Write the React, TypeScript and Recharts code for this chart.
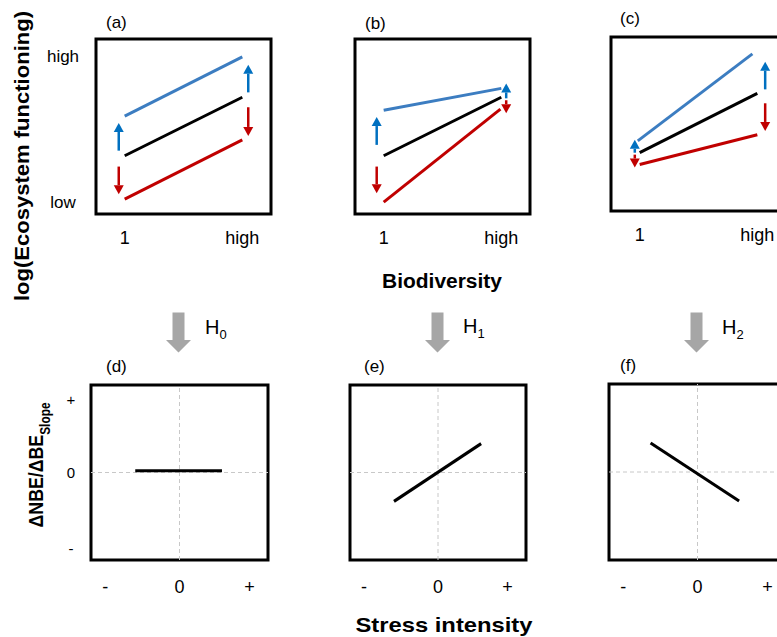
import React from 'react';
import { LineChart, Line, XAxis, YAxis, ReferenceLine, ReferenceArea } from 'recharts';

const FONT = '"Liberation Sans", Arial, sans-serif';
const BLUE = '#3C7DC1';
const BLUE_ARROW = '#0070C0';
const RED = '#C00000';
const GREY = '#A6A6A6';

// top row: biodiversity vs log(ecosystem functioning), both on a 0..10 scale
const bioTicks = [1.64, 8.36];
const bioLabels = ['1', 'high'];
const efTicks = [0.68, 9.0];
const efLabels = ['low', 'high'];

const aBlue = [{ x: 1.64, y: 5.59 }, { x: 8.36, y: 8.98 }];
const aBlack = [{ x: 1.64, y: 3.33 }, { x: 8.36, y: 6.67 }];
const aRed = [{ x: 1.64, y: 0.85 }, { x: 8.36, y: 4.24 }];
const aArrows = [
  { x: 1.3, from: 3.62, to: 5.2, color: BLUE_ARROW },
  { x: 1.3, from: 2.71, to: 1.13, color: RED },
  { x: 8.7, from: 6.95, to: 8.53, color: BLUE_ARROW },
  { x: 8.7, from: 6.1, to: 4.46, color: RED }
];

const bBlue = [{ x: 1.64, y: 5.93 }, { x: 8.36, y: 7.18 }];
const bBlack = [{ x: 1.64, y: 3.33 }, { x: 8.36, y: 6.67 }];
const bRed = [{ x: 1.64, y: 0.68 }, { x: 8.31, y: 5.99 }];
const bArrows = [
  { x: 1.24, from: 3.95, to: 5.54, color: BLUE_ARROW },
  { x: 1.24, from: 2.71, to: 1.19, color: RED },
  { x: 8.64, from: 6.61, to: 7.46, color: BLUE_ARROW },
  { x: 8.64, from: 6.5, to: 5.76, color: RED }
];

const cBlue = [{ x: 1.53, y: 4.03 }, { x: 8.08, y: 9.03 }];
const cBlack = [{ x: 1.64, y: 3.35 }, { x: 8.36, y: 6.76 }];
const cRed = [{ x: 1.64, y: 2.67 }, { x: 8.36, y: 4.38 }];
const cArrows = [
  { x: 1.36, from: 3.35, to: 4.09, color: BLUE_ARROW },
  { x: 1.36, from: 3.24, to: 2.5, color: RED },
  { x: 8.81, from: 6.99, to: 8.58, color: BLUE_ARROW },
  { x: 8.81, from: 6.19, to: 4.6, color: RED }
];

// bottom row: stress intensity vs delta NBE / delta BE slope, -1..1
const stressTicks = [-0.84, 0, 0.79];
const stressLabels = ['-', '0', '+'];
const slopeTicks = [-0.87, 0, 0.84];
const slopeLabels = ['-', '0', '+'];

const dLine = [{ x: -0.5, y: 0.02 }, { x: 0.48, y: 0.02 }];
const eLine = [{ x: -0.5, y: -0.33 }, { x: 0.49, y: 0.33 }];
const fLine = [{ x: -0.53, y: 0.33 }, { x: 0.47, y: -0.33 }];

const ArrowShape = (p: any) => {
  const { x1, y1, x2, y2, color } = p;
  if (x1 == null || y1 == null) return <g />;
  const dx = x2 - x1;
  const dy = y2 - y1;
  const len = Math.hypot(dx, dy) || 1;
  const ux = dx / len;
  const uy = dy / len;
  const hl = Math.min(9, len * 0.75);
  const hw = 5;
  const bx = x2 - ux * hl;
  const by = y2 - uy * hl;
  return (
    <g>
      <line x1={x1} y1={y1} x2={bx} y2={by} stroke={color} strokeWidth={2.5} />
      <polygon
        points={`${x2},${y2} ${bx - uy * hw},${by + ux * hw} ${bx + uy * hw},${by - ux * hw}`}
        fill={color}
      />
    </g>
  );
};

type Series = { data: { x: number; y: number }[]; color: string };
type Arrow = { x: number; from: number; to: number; color: string };

interface PanelProps {
  left: number;
  top: number;
  w: number;
  h: number;
  domain: [number, number];
  xTicks: number[];
  xLabels: string[];
  xGap: number;
  yTicks?: number[];
  yLabels?: string[];
  yGap?: number;
  yFont?: number;
  lines: Series[];
  arrows?: Arrow[];
  cross?: boolean;
}

const PAD_L = 70;
const PAD_T = 6;
const PAD_R = 6;
const PAD_B = 44;

function Panel({
  left, top, w, h, domain, xTicks, xLabels, xGap,
  yTicks, yLabels, yGap = 30, yFont = 16, lines, arrows = [], cross = false
}: PanelProps) {
  const xLab = (v: number) => xLabels[xTicks.indexOf(v)] ?? '';
  const yLab = (v: number) => (yLabels && yTicks ? yLabels[yTicks.indexOf(v)] ?? '' : '');
  return (
    <div style={{ position: 'absolute', left: left - PAD_L, top: top - PAD_T }}>
      <LineChart
        width={w + PAD_L + PAD_R}
        height={h + PAD_T + PAD_B}
        margin={{ top: PAD_T, right: PAD_R, left: 0, bottom: 0 }}
      >
        <XAxis
          type="number"
          dataKey="x"
          domain={domain}
          ticks={xTicks}
          interval={0}
          height={PAD_B}
          axisLine={false}
          tickLine={false}
          tickSize={0}
          tickMargin={0}
          allowDataOverflow
          tick={(p: any) => (
            <text
              x={p.x}
              y={p.y + xGap}
              textAnchor="middle"
              dominantBaseline="central"
              fontFamily={FONT}
              fontSize={18}
              fill="#000"
            >
              {xLab(p.payload.value)}
            </text>
          )}
        />
        <YAxis
          type="number"
          domain={domain}
          width={PAD_L}
          ticks={yTicks}
          interval={0}
          axisLine={false}
          tickLine={false}
          tickSize={0}
          tickMargin={0}
          allowDataOverflow
          tick={
            yTicks
              ? (p: any) => (
                  <text
                    x={p.x - yGap}
                    y={p.y}
                    textAnchor="middle"
                    dominantBaseline="central"
                    fontFamily={FONT}
                    fontSize={yFont}
                    fill="#000"
                  >
                    {yLab(p.payload.value)}
                  </text>
                )
              : false
          }
        />
        {cross && (
          <ReferenceLine x={0} stroke="#C8C8C8" strokeWidth={1} strokeDasharray="4 3" />
        )}
        {cross && (
          <ReferenceLine y={0} stroke="#C8C8C8" strokeWidth={1} strokeDasharray="4 3" />
        )}
        {lines.map((l, i) => (
          <Line
            key={`line-${i}`}
            data={l.data}
            dataKey="y"
            type="linear"
            stroke={l.color}
            strokeWidth={3}
            dot={false}
            activeDot={false}
            isAnimationActive={false}
          />
        ))}
        {arrows.map((a, i) => (
          <ReferenceLine
            key={`arrow-${i}`}
            segment={[{ x: a.x, y: a.from }, { x: a.x, y: a.to }]}
            stroke={a.color}
            shape={(p: any) => <ArrowShape {...p} color={a.color} />}
          />
        ))}
        <ReferenceArea
          x1={domain[0]}
          x2={domain[1]}
          y1={domain[0]}
          y2={domain[1]}
          fill="none"
          fillOpacity={0}
          stroke="#000"
          strokeWidth={3}
        />
      </LineChart>
    </div>
  );
}

const GreyArrow = ({ cx }: { cx: number }) => (
  <polygon
    points={`${cx - 6},312.5 ${cx + 6},312.5 ${cx + 6},340 ${cx + 12.5},340 ${cx},352.5 ${cx - 12.5},340 ${cx - 6},340`}
    fill={GREY}
  />
);

const Hyp = ({ x, y, sub }: { x: number; y: number; sub: string }) => (
  <text x={x} y={y} fontFamily={FONT} fontSize={20} fill="#000">
    H
    <tspan fontSize={13} dy={5}>
      {sub}
    </tspan>
  </text>
);

const PanelTag = ({ x, y, t }: { x: number; y: number; t: string }) => (
  <text x={x} y={y} fontFamily={FONT} fontSize={17} fill="#000">
    {t}
  </text>
);

export default function App() {
  const top = { domain: [0, 10] as [number, number], xTicks: bioTicks, xLabels: bioLabels, xGap: 24 };
  const bottom = {
    domain: [-1, 1] as [number, number],
    xTicks: stressTicks,
    xLabels: stressLabels,
    xGap: 27,
    cross: true
  };
  return (
    <div
      style={{
        position: 'absolute',
        left: 0,
        top: 0,
        width: 777,
        height: 637,
        overflow: 'hidden',
        background: '#fff'
      }}
    >
      <Panel
        {...top}
        left={95.5}
        top={38.5}
        w={175}
        h={175}
        yTicks={efTicks}
        yLabels={efLabels}
        yGap={33}
        yFont={17}
        lines={[
          { data: aBlue, color: BLUE },
          { data: aBlack, color: '#000' },
          { data: aRed, color: RED }
        ]}
        arrows={aArrows}
      />
      <Panel
        {...top}
        left={355}
        top={38.5}
        w={175}
        h={175}
        lines={[
          { data: bBlue, color: BLUE },
          { data: bBlack, color: '#000' },
          { data: bRed, color: RED }
        ]}
        arrows={bArrows}
      />
      <Panel
        {...top}
        left={610.5}
        top={36.5}
        w={175}
        h={174}
        lines={[
          { data: cBlue, color: BLUE },
          { data: cBlack, color: '#000' },
          { data: cRed, color: RED }
        ]}
        arrows={cArrows}
      />
      <Panel
        {...bottom}
        left={90.5}
        top={384.5}
        w={177}
        h={175}
        yTicks={slopeTicks}
        yLabels={slopeLabels}
        yGap={20}
        yFont={15}
        lines={[{ data: dLine, color: '#000' }]}
      />
      <Panel
        {...bottom}
        left={349.5}
        top={384.5}
        w={176}
        h={175}
        lines={[{ data: eLine, color: '#000' }]}
      />
      <Panel
        {...bottom}
        left={608.5}
        top={383.5}
        w={177}
        h={176}
        lines={[{ data: fLine, color: '#000' }]}
      />
      <svg
        width={777}
        height={637}
        style={{ position: 'absolute', left: 0, top: 0, pointerEvents: 'none' }}
      >
        <text
          x={29}
          y={156}
          transform="rotate(-90 29 156)"
          textAnchor="middle"
          fontFamily={FONT}
          fontWeight="bold"
          fontSize={20}
          textLength={290}
          lengthAdjust="spacingAndGlyphs"
        >
          log(Ecosystem functioning)
        </text>
        <text
          x={442}
          y={288}
          textAnchor="middle"
          fontFamily={FONT}
          fontWeight="bold"
          fontSize={20}
          textLength={120}
          lengthAdjust="spacingAndGlyphs"
        >
          Biodiversity
        </text>
        <text
          x={43}
          y={465}
          transform="rotate(-90 43 465)"
          textAnchor="middle"
          fontFamily={FONT}
          fontWeight="bold"
          fontSize={21}
          textLength={125}
          lengthAdjust="spacingAndGlyphs"
        >
          ΔNBE/ΔBE
          <tspan fontSize={14} dy={7}>
            Slope
          </tspan>
        </text>
        <text
          x={444}
          y={632}
          textAnchor="middle"
          fontFamily={FONT}
          fontWeight="bold"
          fontSize={21}
          textLength={177}
          lengthAdjust="spacingAndGlyphs"
        >
          Stress intensity
        </text>
        <PanelTag x={106} y={28} t="(a)" />
        <PanelTag x={365} y={29} t="(b)" />
        <PanelTag x={620} y={24} t="(c)" />
        <PanelTag x={106} y={371.5} t="(d)" />
        <PanelTag x={364} y={371.5} t="(e)" />
        <PanelTag x={620} y={371} t="(f)" />
        <GreyArrow cx={178.5} />
        <GreyArrow cx={437.5} />
        <GreyArrow cx={696.5} />
        <Hyp x={205} y={334} sub="0" />
        <Hyp x={463} y={333} sub="1" />
        <Hyp x={722} y={334} sub="2" />
      </svg>
    </div>
  );
}
